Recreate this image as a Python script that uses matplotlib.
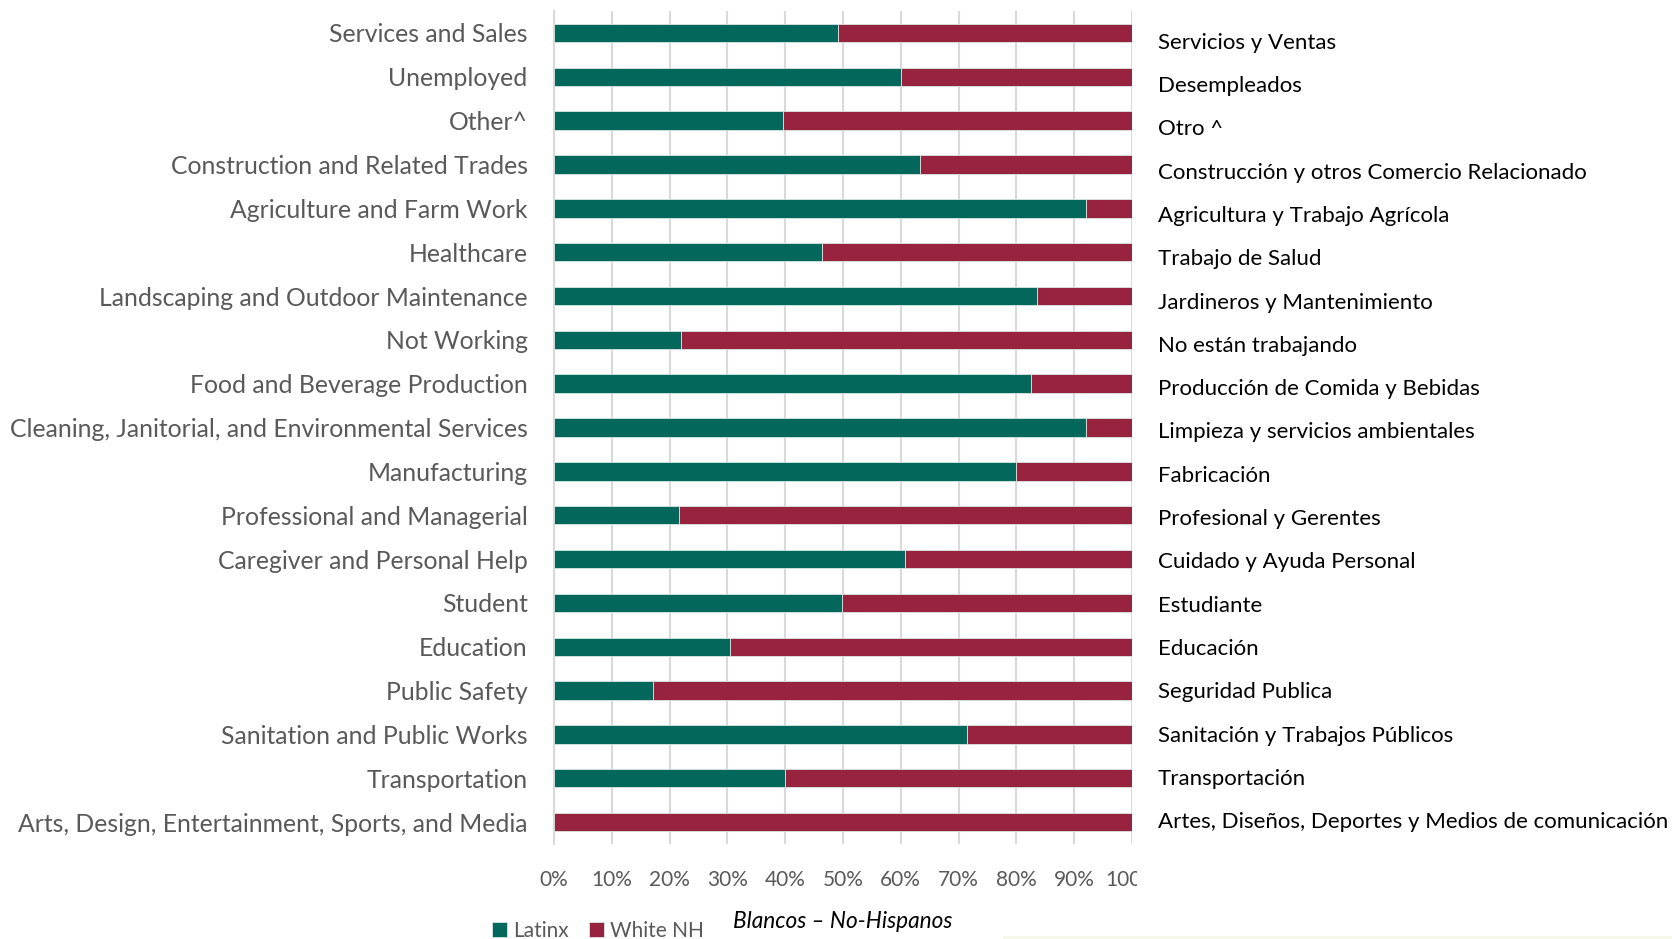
import matplotlib
matplotlib.use("Agg")
import matplotlib.pyplot as plt
import numpy as np
from matplotlib.transforms import Bbox, blended_transform_factory
from matplotlib.patches import Rectangle

categories = [
    "Services and Sales", "Unemployed", "Other^", "Construction and Related Trades",
    "Agriculture and Farm Work", "Healthcare", "Landscaping and Outdoor Maintenance",
    "Not Working", "Food and Beverage Production",
    "Cleaning, Janitorial, and Environmental Services", "Manufacturing",
    "Professional and Managerial", "Caregiver and Personal Help", "Student",
    "Education", "Public Safety", "Sanitation and Public Works", "Transportation",
    "Arts, Design, Entertainment, Sports, and Media",
]
categories_es = [
    "Servicios y Ventas", "Desempleados", "Otro ^",
    "Construcción y otros Comercio Relacionado", "Agricultura y Trabajo Agrícola",
    "Trabajo de Salud", "Jardineros y Mantenimiento", "No están trabajando",
    "Producción de Comida y Bebidas", "Limpieza y servicios ambientales",
    "Fabricación", "Profesional y Gerentes", "Cuidado y Ayuda Personal",
    "Estudiante", "Educación", "Seguridad Publica",
    "Sanitación y Trabajos Públicos", "Transportación",
    "Artes, Diseños, Deportes y Medios de comunicación",
]
latinx = [49.2, 60.0, 39.7, 63.3, 92.1, 46.3, 83.6, 21.9, 82.5, 92.1, 79.9,
          21.6, 60.7, 49.9, 30.4, 17.1, 71.4, 40.0, 0.0]
white_nh = [100 - v for v in latinx]
xticks = [0, 10, 20, 30, 40, 50, 60, 70, 80, 90, 100]
xticklabels = ["0%", "10%", "20%", "30%", "40%", "50%", "60%", "70%", "80%", "90%", "100%"]

GREEN = "#03685B"
RED = "#98233E"
GRAY = "#595959"
FONT = ["Lato", "DejaVu Sans"]

plt.rcParams["font.family"] = FONT

fig = plt.figure(figsize=(16.72, 9.39), dpi=100)
ax = fig.add_axes([0.3313, 0.1012, 0.3457, 0.887])

y = np.arange(len(categories))
ax.barh(y, latinx, height=0.42, color=GREEN, edgecolor="#d9e6e3", linewidth=0.6,
        label="Latinx", zorder=3)
ax.barh(y, white_nh, left=latinx, height=0.42, color=RED, edgecolor="#d9e6e3",
        linewidth=0.6, label="White NH", zorder=3)

ax.set_ylim(len(categories) - 0.5, -0.5)
ax.set_xlim(0, 100)
ax.set_yticks(y)
ax.set_yticklabels(categories, fontsize=17.8, color=GRAY)
ax.set_xticks(xticks)
ax.set_xticklabels(xticklabels, fontsize=15, color=GRAY)
ax.tick_params(axis="y", length=0, pad=19)
ax.tick_params(axis="x", length=0, pad=19)
ax.grid(axis="x", color="#d9d9d9", linewidth=1.5, zorder=0)
for s in ["top", "right", "bottom"]:
    ax.spines[s].set_visible(False)
ax.spines["left"].set_color("#d9d9d9")
ax.spines["left"].set_linewidth(1.5)

# Spanish labels on the right
tr = blended_transform_factory(fig.transFigure, ax.transData)
for i, lab in enumerate(categories_es):
    ax.text(1158 / 1672, 0.22 + i * 0.988, lab, transform=tr, fontsize=16,
            color="black", va="center", ha="left")

# Legend
h, l = ax.get_legend_handles_labels()
leg = fig.legend(h, l, loc="center left", bbox_to_anchor=(0.283, 0.009), ncol=2,
                 frameon=False, fontsize=15, handlelength=0.7, handleheight=0.7,
                 handletextpad=0.3, columnspacing=1.0, labelcolor=GRAY)
fig.text(0.4385, 0.019, "Blancos – No-Hispanos", fontsize=16.3, style="italic",
         color="black", ha="left", va="center")

# faint decorative line at the bottom
fig.add_artist(Rectangle((0.60, 0.0), 0.40, 0.003, transform=fig.transFigure,
                         color="#f5f7e8", lw=0))

# clip the last x tick label like the reference
fig.canvas.draw()
clipbox = Bbox.from_extents(0, 0, 1137, 939)
for t in ax.get_xticklabels():
    t.set_clip_box(clipbox)
    t.set_clip_on(True)

fig.savefig("out.png", dpi=100)
